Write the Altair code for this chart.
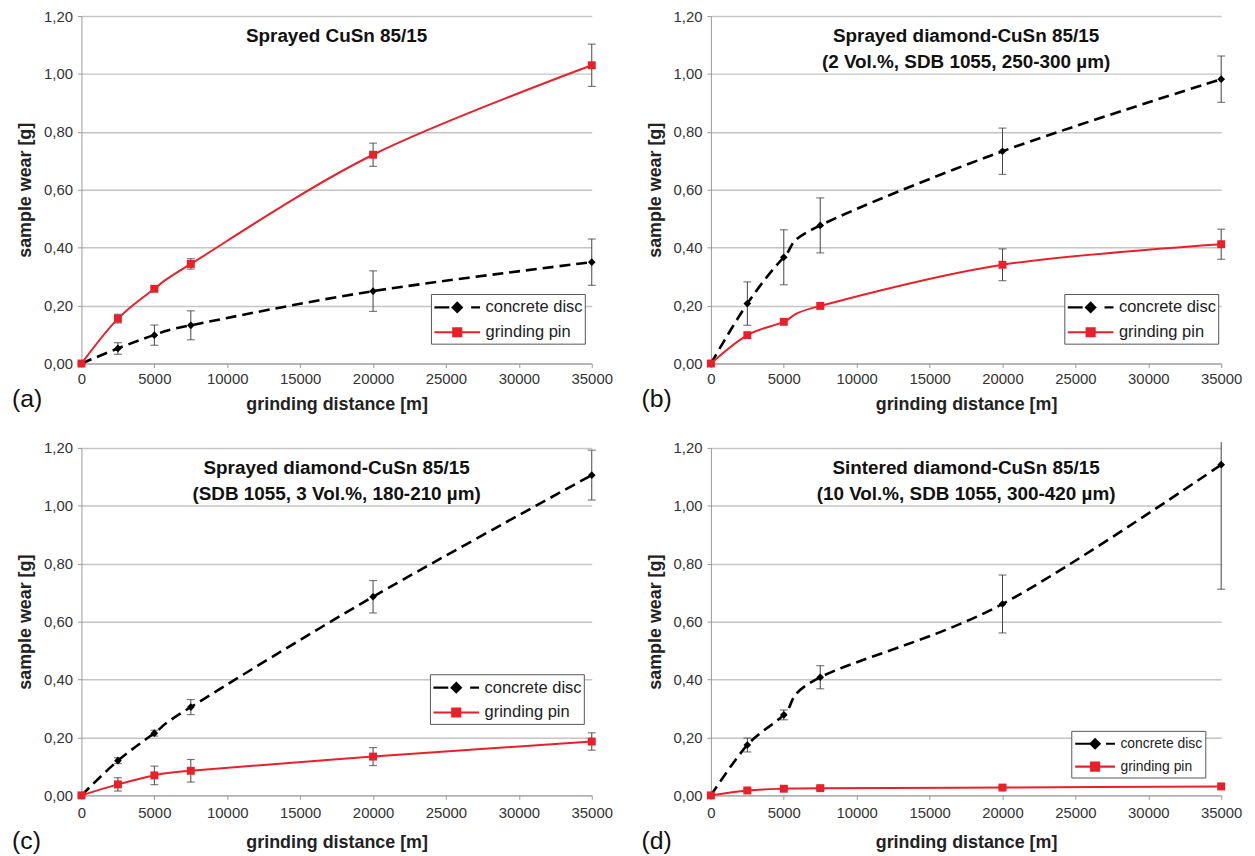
import altair as alt
import pandas as pd

# ---------------- data ----------------
distance = [0, 2500, 5000, 7500, 20000, 35000]
series_names = ["concrete disc", "grinding pin"]

a_disc = [0.0, 0.052, 0.098, 0.132, 0.250, 0.350]
a_disc_err = [0.0, 0.020, 0.035, 0.050, 0.070, 0.080]
a_pin = [0.0, 0.155, 0.258, 0.344, 0.721, 1.030]
a_pin_err = [0.0, 0.015, 0.006, 0.018, 0.040, 0.073]

b_disc = [0.0, 0.207, 0.367, 0.477, 0.733, 0.982]
b_disc_err = [0.0, 0.075, 0.095, 0.095, 0.080, 0.080]
b_pin = [0.0, 0.098, 0.144, 0.199, 0.341, 0.412]
b_pin_err = [0.0, 0.0, 0.0, 0.0, 0.055, 0.052]

c_disc = [0.0, 0.120, 0.215, 0.305, 0.686, 1.106]
c_disc_err = [0.0, 0.010, 0.010, 0.026, 0.056, 0.086]
c_pin = [0.0, 0.038, 0.069, 0.085, 0.134, 0.186]
c_pin_err = [0.0, 0.023, 0.032, 0.039, 0.031, 0.030]

d_disc = [0.0, 0.174, 0.278, 0.408, 0.661, 1.142]
d_disc_err = [0.0, 0.024, 0.017, 0.040, 0.100, 0.430]
d_pin = [0.0, 0.017, 0.023, 0.025, 0.027, 0.031]
d_pin_err = [0.0, 0.006, 0.005, 0.005, 0.004, 0.008]

headings = {
    "a": ["Sprayed CuSn 85/15"],
    "b": ["Sprayed diamond-CuSn 85/15", "(2 Vol.%, SDB 1055, 250-300 µm)"],
    "c": ["Sprayed diamond-CuSn 85/15", "(SDB 1055, 3 Vol.%, 180-210 µm)"],
    "d": ["Sintered diamond-CuSn 85/15", "(10 Vol.%, SDB 1055, 300-420 µm)"],
}

x_ticks = [0, 5000, 10000, 15000, 20000, 25000, 30000, 35000]
y_ticks = [0.0, 0.2, 0.4, 0.6, 0.8, 1.0, 1.2]

# ---------------- style ----------------
FONT = "Liberation Sans"
RED = "#e8202a"
BLACK = "#000000"
ERR = "#444444"
W, H = 514, 350
CLIP = 1.22  # error bars are clipped just above the plot top, like in the original


def legend_paths(sym_w, row_h):
    """Legend glyphs (line + marker) as SVG paths in Vega's symbol units.
    One unit = row_h / 2 px; the glyph starts at the entry's left edge and is sym_w px wide."""
    u = row_h / 2.0
    left = -1.0
    right = (sym_w - u) / u
    mid = (sym_w / 2.0 - u) / u
    dh = 4.6 / u  # diamond half size
    sh = 4.0 / u  # square half size
    f = lambda v: f"{v:.3f}"
    disc = (
        f"M{f(left)},0L{f(left + 15 / u)},0"
        f"M{f(right - 9 / u)},0L{f(right)},0"
        f"M{f(mid)},{f(-dh)}L{f(mid + dh)},0L{f(mid)},{f(dh)}L{f(mid - dh)},0Z"
    )
    pin = (
        f"M{f(left)},0L{f(right)},0"
        f"M{f(mid - sh)},{f(-sh)}L{f(mid + sh)},{f(-sh)}L{f(mid + sh)},{f(sh)}L{f(mid - sh)},{f(sh)}Z"
    )
    return disc, pin


def panel(letter, disc, disc_err, pin, pin_err, leg_x, leg_y, leg_font, bottom_row):
    rows = []
    for name, vals, errs in ((series_names[0], disc, disc_err), (series_names[1], pin, pin_err)):
        for x, v, e in zip(distance, vals, errs):
            rows.append({"x": x, "v": v, "e": e, "series": name})
    df = pd.DataFrame(rows)

    xs = alt.Scale(domain=[0, 35000], nice=False, zero=True)
    ys = alt.Scale(domain=[0, 1.2], nice=False)
    x_axis = alt.Axis(
        values=x_ticks, format="d", title="grinding distance [m]", grid=False,
        labelFontSize=15, labelColor="#333", titleFontSize=18, titleFontWeight="bold",
        titleColor="#222", tickSize=4, tickColor="#999", domainColor="#999",
        labelPadding=6 if bottom_row else 4, titlePadding=14 if bottom_row else 9,
        labelFlush=False,
    )
    y_axis = alt.Axis(
        values=y_ticks, labelExpr="replace(format(datum.value, '.2f'), '.', ',')",
        title="sample wear [g]", grid=True, gridColor="#c4c4c4", gridWidth=1.5,
        labelFontSize=15, labelColor="#333", titleFontSize=18, titleFontWeight="bold",
        titleColor="#222", tickSize=4, tickColor="#999", domainColor="#999",
        labelPadding=5, titlePadding=9,
    )
    X = alt.X("x:Q", scale=xs, axis=x_axis)
    base = alt.Chart(df)

    err = base.transform_filter("datum.e > 0").transform_calculate(
        lo="datum.v - datum.e", hi=f"min(datum.v + datum.e, {CLIP})"
    )
    rule = err.mark_rule(color=ERR, strokeWidth=1).encode(
        x=X, y=alt.Y("lo:Q", scale=ys, axis=y_axis), y2="hi:Q"
    )
    cap_lo = err.mark_tick(orient="horizontal", size=8, thickness=1.2, color=ERR).encode(
        x=X, y=alt.Y("lo:Q", scale=ys, axis=y_axis)
    )
    cap_hi = err.transform_filter(f"datum.v + datum.e <= {CLIP}").mark_tick(
        orient="horizontal", size=8, thickness=1.2, color=ERR
    ).encode(x=X, y=alt.Y("hi:Q", scale=ys, axis=y_axis))

    Y = alt.Y("v:Q", scale=ys, axis=y_axis)
    disc_sel = base.transform_filter(alt.datum.series == series_names[0])
    pin_sel = base.transform_filter(alt.datum.series == series_names[1])

    line_disc = disc_sel.mark_line(
        interpolate="cardinal", color=BLACK, strokeWidth=2.6, strokeDash=[11, 6]
    ).encode(x=X, y=Y)
    line_pin = pin_sel.mark_line(interpolate="cardinal", color=RED, strokeWidth=2).encode(x=X, y=Y)
    pts_disc = disc_sel.mark_point(shape="diamond", filled=True, size=60, color=BLACK, opacity=1).encode(x=X, y=Y)
    pts_pin = pin_sel.mark_point(shape="square", filled=True, size=64, color=RED, opacity=1).encode(x=X, y=Y)

    if leg_font >= 15:
        row_h, sym_w, pad, row_pad = 20, 46, 2, 4
    else:
        row_h, sym_w, pad, row_pad = 18, 40, 2.5, 3
    sym_disc, sym_pin = legend_paths(sym_w, row_h)
    leg = alt.Legend(
        title=None, orient="none", legendX=leg_x, legendY=leg_y, padding=pad,
        strokeColor="#555", fillColor="white", cornerRadius=0,
        labelFont=FONT, labelFontSize=leg_font, labelColor="#222",
        symbolSize=row_h * row_h, symbolStrokeWidth=2.2, symbolOpacity=1,
        rowPadding=row_pad, labelOffset=sym_w - row_h + 4, symbolOffset=0,
    )
    legend_layer = base.mark_point(filled=True, opacity=0, strokeWidth=2).encode(
        x=X, y=Y,
        fill=alt.Fill("series:N", scale=alt.Scale(domain=series_names, range=[BLACK, RED]), legend=leg),
        stroke=alt.Stroke("series:N", scale=alt.Scale(domain=series_names, range=[BLACK, RED]), legend=leg),
        shape=alt.Shape("series:N", scale=alt.Scale(domain=series_names, range=[sym_disc, sym_pin]), legend=leg),
    )

    head = alt.Chart(pd.DataFrame({"k": [0]})).mark_text(
        font=FONT, fontSize=19, fontWeight="bold", color="#111", align="center",
        baseline="top", lineHeight=26,
    ).encode(x=alt.value(W / 2), y=alt.value(11), text=alt.value(headings[letter]))

    tag = alt.Chart(pd.DataFrame({"k": [0]})).mark_text(
        font=FONT, fontSize=25, color="#111", align="left", baseline="middle",
    ).encode(x=alt.value(-70), y=alt.value(H + (46 if bottom_row else 36)), text=alt.value(f"({letter})"))

    return alt.layer(
        rule, cap_lo, cap_hi, line_disc, line_pin, pts_disc, pts_pin, legend_layer, head, tag
    ).properties(width=W, height=H)


pa = panel("a", a_disc, a_disc_err, a_pin, a_pin_err, 352, 280, 16.6, False)
pb = panel("b", b_disc, b_disc_err, b_pin, b_pin_err, 356, 280, 16.6, False)
pc = panel("c", c_disc, c_disc_err, c_pin, c_pin_err, 351, 228, 16.6, True)
pd_ = panel("d", d_disc, d_disc_err, d_pin, d_pin_err, 363, 285, 14, True)

chart = alt.concat(pa, pb, pc, pd_, columns=2, spacing={"row": 28, "column": 29}).properties(
    padding={"left": 4, "top": -2, "right": 5, "bottom": 5}
).resolve_legend(fill="independent", stroke="independent", shape="independent").resolve_scale(
    fill="independent", stroke="independent", shape="independent"
).configure(font=FONT).configure_view(stroke=None)

chart.save("out.html", embed_options={"renderer": "svg", "actions": False})
